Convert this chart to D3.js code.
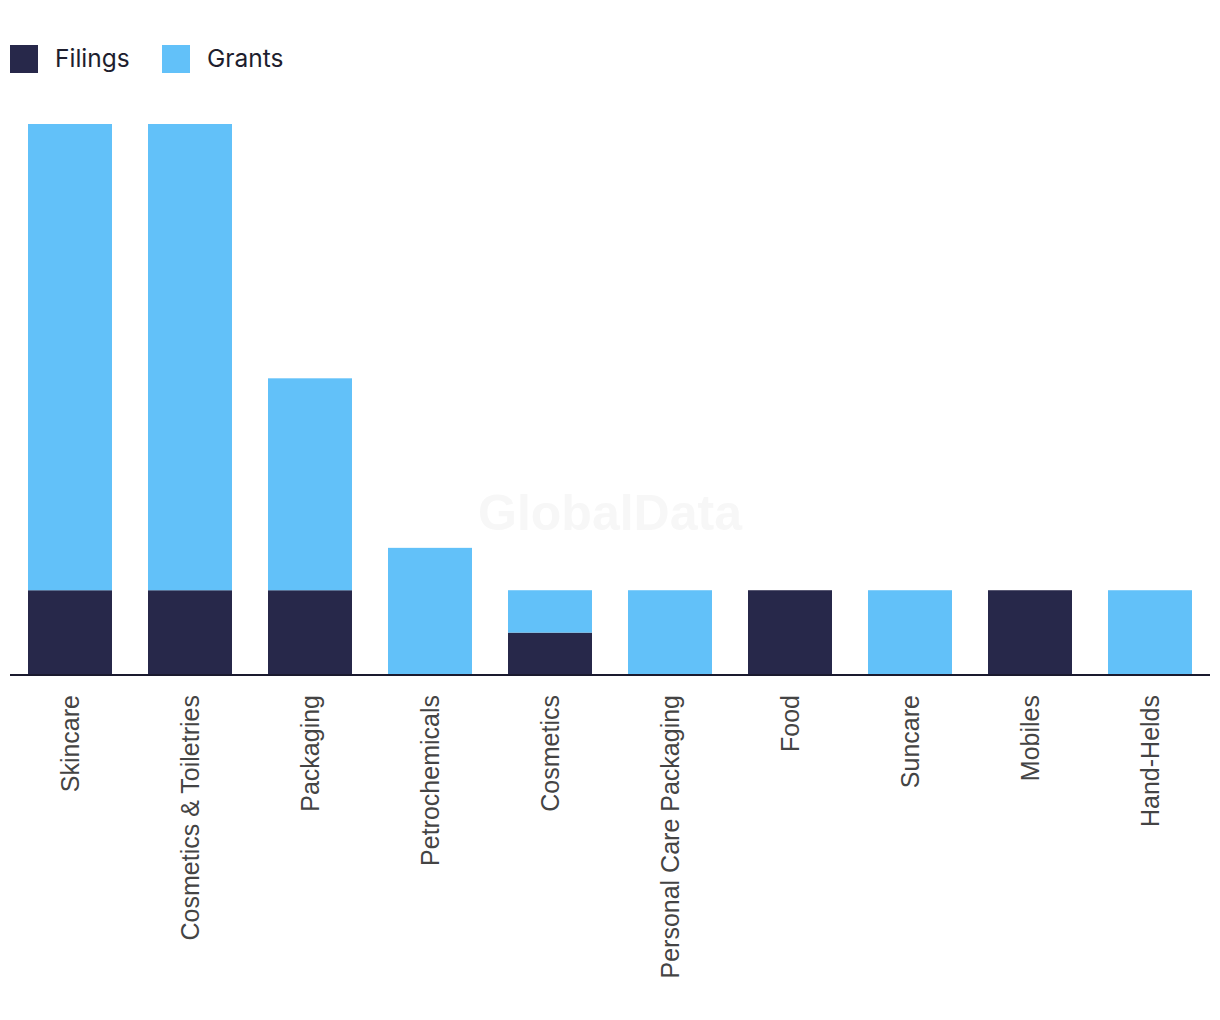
<!DOCTYPE html>
<html><head><meta charset="utf-8">
<script src="https://cdn.jsdelivr.net/npm/d3@7"></script>
<style>body{margin:0;background:#fff}svg{display:block}</style>
</head><body>
<svg id="c" width="1220" height="1020"></svg>
<script>
const categories = ["Skincare","Cosmetics & Toiletries","Packaging","Petrochemicals","Cosmetics","Personal Care Packaging","Food","Suncare","Mobiles","Hand-Helds"];
const filings = [2,2,2,0,1,0,2,0,2,0];
const grants  = [11,11,5,3,1,2,0,2,0,2];
const seriesNames = ["Filings","Grants"];
const colors = ["#27284a","#62c1f9"];

const svg = d3.select("#c");
const data = categories.map((c,i)=>({cat:c, Filings:filings[i], Grants:grants[i]}));
const stack = d3.stack().keys(seriesNames)(data);

const x = d3.scaleBand().domain(categories).range([10,1210]).paddingInner(0.3).paddingOuter(0.15);
const y = d3.scaleLinear().domain([0,13]).range([675,124]);

svg.append("text").attr("x",610).attr("y",530).attr("text-anchor","middle")
  .attr("font-family","Liberation Sans, Arial, sans-serif").attr("font-weight","bold")
  .attr("font-size",50).attr("fill","#f7f7f7").text("GlobalData");

svg.selectAll("g.s").data(stack).join("g").attr("class","s")
  .attr("fill",(d,i)=>colors[i])
  .selectAll("rect").data(d=>d).join("rect")
  .attr("x",d=>x(d.data.cat)).attr("width",x.bandwidth())
  .attr("y",d=>y(d[1])).attr("height",d=>y(d[0])-y(d[1]));

const ax = svg.append("g").attr("transform","translate(0,675)")
  .call(d3.axisBottom(x).tickSize(0).tickPadding(0));
ax.select(".domain").attr("stroke","#1a1a2e").attr("stroke-width",2).attr("d","M10,0H1210");
ax.selectAll(".tick text")
  .attr("font-family","Liberation Sans, Arial, sans-serif").attr("font-size",25).attr("fill","#444")
  .attr("transform","rotate(-90)").attr("text-anchor","end")
  .attr("x",-20).attr("y",0).attr("dy","0.35em");

const lg = svg.append("g");
const lx = [10,162];
seriesNames.forEach((n,i)=>{
  lg.append("rect").attr("x",lx[i]).attr("y",45).attr("width",28).attr("height",28).attr("fill",colors[i]);
  lg.append("text").attr("x",lx[i]+45).attr("y",67).attr("font-family","Inter, sans-serif")
    .attr("font-size",24.5).attr("fill","#1e1e2e").text(n);
});
</script>
</body></html>
